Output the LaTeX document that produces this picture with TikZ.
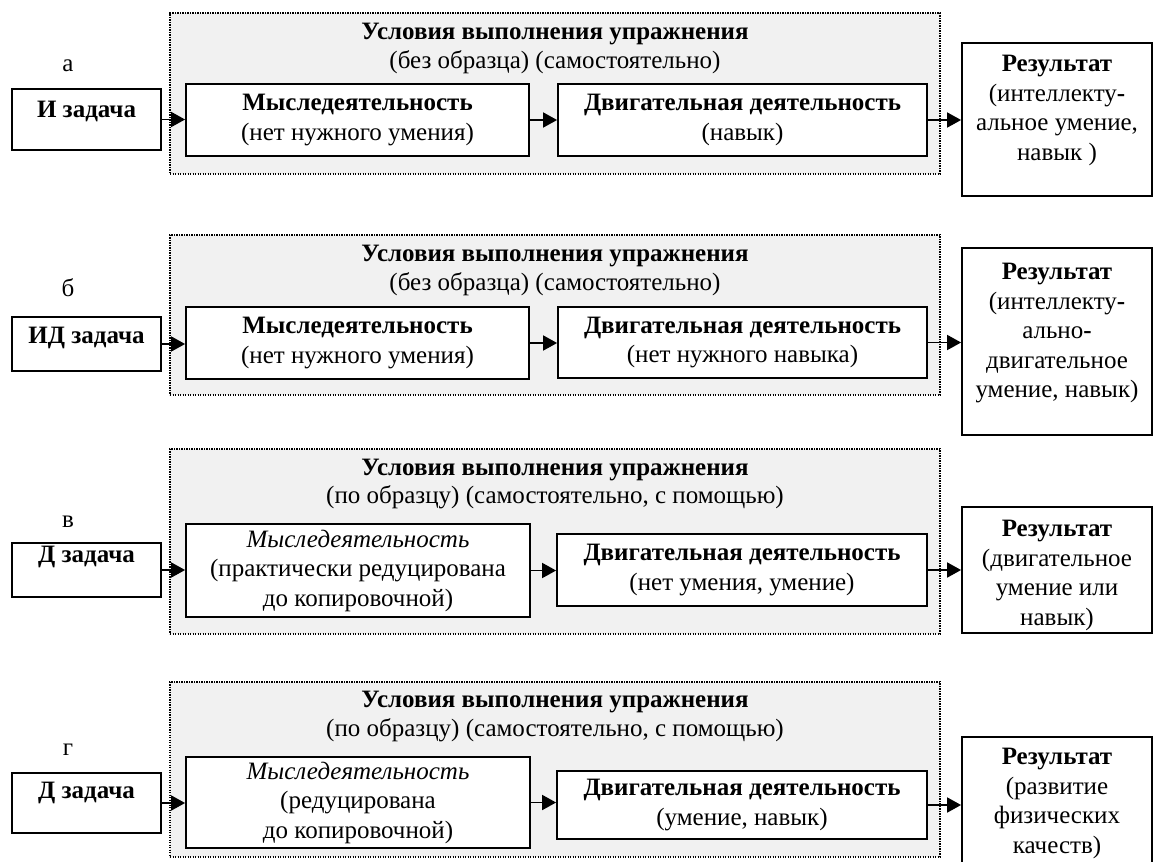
\documentclass[tikz,border=0pt]{standalone}
\usepackage{fontspec}
\setmainfont{Liberation Serif}
\usetikzlibrary{arrows.meta}
\definecolor{condfill}{gray}{0.945}
\tikzset{
  x=1pt, y=-1pt,
  box/.style={draw, line width=1.8pt, fill=white, inner sep=0pt, align=center,
    font=\fontsize{25}{29.5}\selectfont},
  cond/.style={draw, line width=1.5pt, dash pattern=on 1.4pt off 1.1pt, fill=condfill, inner sep=0pt},
  arr/.style={line width=1.8pt, -{Triangle[length=14pt,width=15pt]}},
  txt/.style={align=center, inner sep=0pt, font=\fontsize{25}{29.5}\selectfont},
  ttl/.style={txt, anchor=base, font=\fontsize{25}{29.5}\selectfont\bfseries},
  sub/.style={txt, anchor=base},
  lbl/.style={txt, anchor=base},
  tasktxt/.style={txt, anchor=base, font=\fontsize{25}{29.5}\selectfont\bfseries},
}
\begin{document}
\begin{tikzpicture}
\useasboundingbox (0,0) rectangle (1154,862);

% ---------- row a ----------
\node[cond, minimum width=770pt, minimum height=161pt] (ca) at (555,93.5) {};
\node[ttl] (cat) at (555,39) {Условия выполнения упражнения};
\node[sub] (cas) at (555,68) {(без образца) (самостоятельно)};
\node[lbl] (la) at (68,71) {а};
\node[box, minimum width=149pt, minimum height=61pt] (ta) at (86.5,119.5) {};
\node[tasktxt] (tat) at (86.5,117) {И задача};
\node[box, minimum width=343pt, minimum height=72pt] (ma) at (357.5,120) {\textbf{Мыследеятельность}\\(нет нужного умения)};
\node[box, minimum width=369pt, minimum height=72pt] (da) at (742.5,120) {\textbf{Двигательная деятельность}\\(навык)};
\node[box, minimum width=190pt, minimum height=153pt] (ra) at (1057,119.5) {};
\node[txt, anchor=north] (rat) at (1057,55) {\textbf{Результат}\\(интеллекту\textbf{-}\\альное умение,\\навык )};
\draw[arr] (ta.east) -- (ta.east -| ma.west);
\draw[arr] (ma.east) -- (ma.east -| da.west);
\draw[arr] (da.east) -- (da.east -| ra.west);

% ---------- row b ----------
\node[cond, minimum width=770pt, minimum height=160pt] (cb) at (555,315) {};
\node[ttl] (cbt) at (555,261) {Условия выполнения упражнения};
\node[sub] (cbs) at (555,290) {(без образца) (самостоятельно)};
\node[lbl] (lb) at (68,296) {б};
\node[box, minimum width=149pt, minimum height=54pt] (tb) at (86.5,344) {};
\node[tasktxt] (tbt) at (86.5,343) {ИД задача};
\node[box, minimum width=343pt, minimum height=72pt] (mb) at (357.5,343) {\textbf{Мыследеятельность}\\(нет нужного умения)};
\node[box, minimum width=369pt, minimum height=71pt] (db) at (742.5,342.5) {\textbf{Двигательная деятельность}\\(нет нужного навыка)};
\node[box, minimum width=190pt, minimum height=187pt] (rb) at (1057,341.5) {};
\node[txt, anchor=north] (rbt) at (1057,263) {\textbf{Результат}\\(интеллекту\textbf{-}\\ально\textbf{-}\\двигательное\\умение, навык)};
\draw[arr] (tb.east) -- (tb.east -| mb.west);
\draw[arr] (mb.east) -- (mb.east -| db.west);
\draw[arr] (db.east) -- (db.east -| rb.west);

% ---------- row c ----------
\node[cond, minimum width=770pt, minimum height=185pt] (cc) at (555,541.5) {};
\node[ttl] (cct) at (555,475) {Условия выполнения упражнения};
\node[sub] (ccs) at (555,503) {(по образцу) (самостоятельно, с помощью)};
\node[lbl] (lc) at (68,527) {в};
\node[box, minimum width=149pt, minimum height=54pt] (tc) at (86.5,570) {};
\node[tasktxt] (tct) at (86.5,562) {Д задача};
\node[box, minimum width=344pt, minimum height=93pt] (mc) at (358,570.5) {\textit{Мыследеятельность}\\(практически редуцирована\\до копировочной)};
\node[box, minimum width=370pt, minimum height=72pt] (dc) at (742,570) {\textbf{Двигательная деятельность}\\(нет умения, умение)};
\node[box, minimum width=190pt, minimum height=126pt] (rc) at (1057,570) {};
\node[txt, anchor=north] (rct) at (1057,520) {\textbf{Результат}\\(двигательное\\умение или\\навык)};
\draw[arr] (tc.east) -- (tc.east -| mc.west);
\draw[arr] (mc.east) -- (mc.east -| dc.west);
\draw[arr] (dc.east) -- (dc.east -| rc.west);

% ---------- row d ----------
\node[cond, minimum width=770pt, minimum height=175pt] (cd) at (555,769.5) {};
\node[ttl] (cdt) at (555,707) {Условия выполнения упражнения};
\node[sub] (cds) at (555,736) {(по образцу) (самостоятельно, с помощью)};
\node[lbl] (ld) at (68,755) {г};
\node[box, minimum width=149pt, minimum height=60pt] (td) at (86.5,803) {};
\node[tasktxt] (tdt) at (86.5,798) {Д задача};
\node[box, minimum width=344pt, minimum height=91pt] (md) at (358,802.5) {\textit{Мыследеятельность}\\(редуцирована\\до копировочной)};
\node[box, minimum width=370pt, minimum height=68pt] (dd) at (742,805) {\textbf{Двигательная деятельность}\\(умение, навык)};
\node[box, minimum width=190pt, minimum height=143pt] (rd) at (1057,808.5) {};
\node[txt, anchor=north] (rdt) at (1057,748) {\textbf{Результат}\\(развитие\\физических\\качеств)};
\draw[arr] (td.east) -- (td.east -| md.west);
\draw[arr] (md.east) -- (md.east -| dd.west);
\draw[arr] (dd.east) -- (dd.east -| rd.west);
\end{tikzpicture}
\end{document}
